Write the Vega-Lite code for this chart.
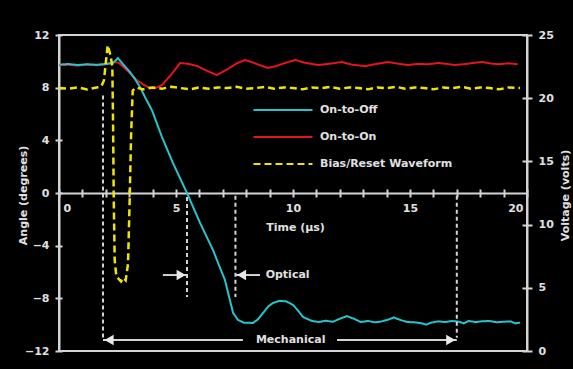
{
  "$schema": "https://vega.github.io/schema/vega-lite/v6.json",
  "width": 468,
  "height": 316,
  "autosize": "none",
  "padding": {"left": 59, "top": 35, "right": 46, "bottom": 18},
  "background": "#000000",
  "config": {
    "view": {"stroke": "#d4d4d4", "strokeWidth": 2},
    "axis": {
      "grid": false,
      "domainColor": "#d4d4d4", "domainWidth": 2,
      "tickColor": "#d4d4d4", "tickWidth": 2,
      "labelColor": "#e0e0e0", "labelFont": "DejaVu Sans", "labelFontWeight": "bold", "labelFontSize": 11,
      "titleColor": "#e0e0e0", "titleFont": "DejaVu Sans", "titleFontWeight": "bold", "titleFontSize": 11
    },
    "legend": {"labelColor": "#e0e0e0", "labelFont": "DejaVu Sans", "labelFontWeight": "bold", "labelFontSize": 11}
  },
  "datasets": {
    "series": [
      {"s":"On-to-On","t":0,"v":9.7},{"s":"On-to-On","t":0.4,"v":9.74},{"s":"On-to-On","t":0.8,"v":9.68},{"s":"On-to-On","t":1.2,"v":9.75},{"s":"On-to-On","t":1.6,"v":9.7},{"s":"On-to-On","t":2.0,"v":9.78},{"s":"On-to-On","t":2.3,"v":9.95},{"s":"On-to-On","t":2.55,"v":9.9},{"s":"On-to-On","t":2.8,"v":9.5},{"s":"On-to-On","t":3.03,"v":9.1},{"s":"On-to-On","t":3.3,"v":8.6},{"s":"On-to-On","t":3.55,"v":8.3},{"s":"On-to-On","t":3.8,"v":8.05},{"s":"On-to-On","t":4.1,"v":7.95},{"s":"On-to-On","t":4.4,"v":8.2},{"s":"On-to-On","t":4.8,"v":9.0},{"s":"On-to-On","t":5.17,"v":9.87},{"s":"On-to-On","t":5.5,"v":9.82},{"s":"On-to-On","t":5.9,"v":9.65},{"s":"On-to-On","t":6.3,"v":9.3},{"s":"On-to-On","t":6.75,"v":8.96},{"s":"On-to-On","t":7.2,"v":9.4},{"s":"On-to-On","t":7.6,"v":9.85},{"s":"On-to-On","t":7.95,"v":10.1},{"s":"On-to-On","t":8.3,"v":9.9},{"s":"On-to-On","t":8.6,"v":9.7},{"s":"On-to-On","t":8.93,"v":9.5},{"s":"On-to-On","t":9.3,"v":9.65},{"s":"On-to-On","t":9.7,"v":9.9},{"s":"On-to-On","t":10.1,"v":10.1},{"s":"On-to-On","t":10.5,"v":9.9},{"s":"On-to-On","t":11.07,"v":9.72},{"s":"On-to-On","t":11.5,"v":9.8},{"s":"On-to-On","t":12.1,"v":9.95},{"s":"On-to-On","t":12.5,"v":9.75},{"s":"On-to-On","t":13.1,"v":9.64},{"s":"On-to-On","t":13.5,"v":9.78},{"s":"On-to-On","t":14.06,"v":9.95},{"s":"On-to-On","t":14.5,"v":9.82},{"s":"On-to-On","t":14.9,"v":9.72},{"s":"On-to-On","t":15.3,"v":9.8},{"s":"On-to-On","t":15.8,"v":9.78},{"s":"On-to-On","t":16.2,"v":9.87},{"s":"On-to-On","t":16.6,"v":9.8},{"s":"On-to-On","t":16.9,"v":9.72},{"s":"On-to-On","t":17.4,"v":9.8},{"s":"On-to-On","t":17.8,"v":9.9},{"s":"On-to-On","t":18.1,"v":9.95},{"s":"On-to-On","t":18.5,"v":9.82},{"s":"On-to-On","t":18.8,"v":9.78},{"s":"On-to-On","t":19.2,"v":9.85},{"s":"On-to-On","t":19.6,"v":9.78},
      {"s":"On-to-Off","t":0,"v":9.75},{"s":"On-to-Off","t":0.4,"v":9.8},{"s":"On-to-Off","t":0.8,"v":9.72},{"s":"On-to-Off","t":1.2,"v":9.78},{"s":"On-to-Off","t":1.6,"v":9.74},{"s":"On-to-Off","t":2.0,"v":9.8},{"s":"On-to-Off","t":2.3,"v":9.85},{"s":"On-to-Off","t":2.52,"v":10.25},{"s":"On-to-Off","t":2.75,"v":9.75},{"s":"On-to-Off","t":3.03,"v":9.19},{"s":"On-to-Off","t":3.25,"v":8.65},{"s":"On-to-Off","t":3.46,"v":8.05},{"s":"On-to-Off","t":3.7,"v":7.2},{"s":"On-to-Off","t":3.97,"v":6.3},{"s":"On-to-Off","t":4.4,"v":4.25},{"s":"On-to-Off","t":4.87,"v":2.28},{"s":"On-to-Off","t":5.47,"v":0},{"s":"On-to-Off","t":6.03,"v":-2.28},{"s":"On-to-Off","t":6.58,"v":-4.33},{"s":"On-to-Off","t":7.09,"v":-6.6},{"s":"On-to-Off","t":7.44,"v":-9.11},{"s":"On-to-Off","t":7.65,"v":-9.64},{"s":"On-to-Off","t":7.9,"v":-9.85},{"s":"On-to-Off","t":8.29,"v":-9.87},{"s":"On-to-Off","t":8.5,"v":-9.6},{"s":"On-to-Off","t":8.72,"v":-9.11},{"s":"On-to-Off","t":8.95,"v":-8.6},{"s":"On-to-Off","t":9.15,"v":-8.35},{"s":"On-to-Off","t":9.4,"v":-8.2},{"s":"On-to-Off","t":9.7,"v":-8.22},{"s":"On-to-Off","t":10.0,"v":-8.5},{"s":"On-to-Off","t":10.2,"v":-8.9},{"s":"On-to-Off","t":10.43,"v":-9.42},{"s":"On-to-Off","t":10.81,"v":-9.72},{"s":"On-to-Off","t":11.1,"v":-9.8},{"s":"On-to-Off","t":11.4,"v":-9.7},{"s":"On-to-Off","t":11.7,"v":-9.78},{"s":"On-to-Off","t":12.0,"v":-9.55},{"s":"On-to-Off","t":12.3,"v":-9.35},{"s":"On-to-Off","t":12.6,"v":-9.55},{"s":"On-to-Off","t":12.9,"v":-9.8},{"s":"On-to-Off","t":13.2,"v":-9.72},{"s":"On-to-Off","t":13.5,"v":-9.82},{"s":"On-to-Off","t":13.8,"v":-9.75},{"s":"On-to-Off","t":14.1,"v":-9.6},{"s":"On-to-Off","t":14.3,"v":-9.45},{"s":"On-to-Off","t":14.6,"v":-9.65},{"s":"On-to-Off","t":14.9,"v":-9.8},{"s":"On-to-Off","t":15.2,"v":-9.82},{"s":"On-to-Off","t":15.5,"v":-9.9},{"s":"On-to-Off","t":15.7,"v":-10.0},{"s":"On-to-Off","t":15.9,"v":-9.85},{"s":"On-to-Off","t":16.2,"v":-9.75},{"s":"On-to-Off","t":16.5,"v":-9.8},{"s":"On-to-Off","t":16.8,"v":-9.72},{"s":"On-to-Off","t":17.1,"v":-9.78},{"s":"On-to-Off","t":17.3,"v":-9.9},{"s":"On-to-Off","t":17.5,"v":-9.72},{"s":"On-to-Off","t":17.8,"v":-9.8},{"s":"On-to-Off","t":18.1,"v":-9.74},{"s":"On-to-Off","t":18.4,"v":-9.72},{"s":"On-to-Off","t":18.7,"v":-9.82},{"s":"On-to-Off","t":19.0,"v":-9.78},{"s":"On-to-Off","t":19.3,"v":-9.75},{"s":"On-to-Off","t":19.5,"v":-9.9},{"s":"On-to-Off","t":19.7,"v":-9.85},
      {"s":"Bias/Reset Waveform","t":0,"v":20.8},{"s":"Bias/Reset Waveform","t":0.4,"v":20.75},{"s":"Bias/Reset Waveform","t":0.8,"v":20.85},{"s":"Bias/Reset Waveform","t":1.2,"v":20.7},{"s":"Bias/Reset Waveform","t":1.6,"v":20.85},{"s":"Bias/Reset Waveform","t":1.8,"v":20.9},{"s":"Bias/Reset Waveform","t":1.92,"v":21.4},{"s":"Bias/Reset Waveform","t":2.08,"v":24.2},{"s":"Bias/Reset Waveform","t":2.2,"v":23.4},{"s":"Bias/Reset Waveform","t":2.28,"v":22.5},{"s":"Bias/Reset Waveform","t":2.31,"v":18},{"s":"Bias/Reset Waveform","t":2.34,"v":12},{"s":"Bias/Reset Waveform","t":2.38,"v":7.2},{"s":"Bias/Reset Waveform","t":2.45,"v":5.9},{"s":"Bias/Reset Waveform","t":2.55,"v":5.7},{"s":"Bias/Reset Waveform","t":2.65,"v":5.5},{"s":"Bias/Reset Waveform","t":2.75,"v":5.8},{"s":"Bias/Reset Waveform","t":2.85,"v":5.6},{"s":"Bias/Reset Waveform","t":2.95,"v":6.9},{"s":"Bias/Reset Waveform","t":3.02,"v":12},{"s":"Bias/Reset Waveform","t":3.08,"v":17},{"s":"Bias/Reset Waveform","t":3.15,"v":20.6},{"s":"Bias/Reset Waveform","t":3.3,"v":20.85},{"s":"Bias/Reset Waveform","t":3.6,"v":20.7},{"s":"Bias/Reset Waveform","t":4.0,"v":20.85},{"s":"Bias/Reset Waveform","t":4.4,"v":20.75},{"s":"Bias/Reset Waveform","t":4.8,"v":20.9},{"s":"Bias/Reset Waveform","t":5.2,"v":20.8},{"s":"Bias/Reset Waveform","t":5.6,"v":20.7},{"s":"Bias/Reset Waveform","t":6.0,"v":20.85},{"s":"Bias/Reset Waveform","t":6.4,"v":20.75},{"s":"Bias/Reset Waveform","t":6.8,"v":20.85},{"s":"Bias/Reset Waveform","t":7.2,"v":20.8},{"s":"Bias/Reset Waveform","t":7.6,"v":20.9},{"s":"Bias/Reset Waveform","t":8.0,"v":20.75},{"s":"Bias/Reset Waveform","t":8.4,"v":20.8},{"s":"Bias/Reset Waveform","t":8.8,"v":20.9},{"s":"Bias/Reset Waveform","t":9.2,"v":20.75},{"s":"Bias/Reset Waveform","t":9.6,"v":20.85},{"s":"Bias/Reset Waveform","t":10.0,"v":20.8},{"s":"Bias/Reset Waveform","t":10.4,"v":20.7},{"s":"Bias/Reset Waveform","t":10.8,"v":20.85},{"s":"Bias/Reset Waveform","t":11.2,"v":20.8},{"s":"Bias/Reset Waveform","t":11.6,"v":20.9},{"s":"Bias/Reset Waveform","t":12.0,"v":20.75},{"s":"Bias/Reset Waveform","t":12.4,"v":20.85},{"s":"Bias/Reset Waveform","t":12.8,"v":20.8},{"s":"Bias/Reset Waveform","t":13.2,"v":20.7},{"s":"Bias/Reset Waveform","t":13.6,"v":20.85},{"s":"Bias/Reset Waveform","t":14.0,"v":20.8},{"s":"Bias/Reset Waveform","t":14.4,"v":20.9},{"s":"Bias/Reset Waveform","t":14.8,"v":20.75},{"s":"Bias/Reset Waveform","t":15.2,"v":20.85},{"s":"Bias/Reset Waveform","t":15.6,"v":20.8},{"s":"Bias/Reset Waveform","t":16.0,"v":20.7},{"s":"Bias/Reset Waveform","t":16.4,"v":20.85},{"s":"Bias/Reset Waveform","t":16.8,"v":20.8},{"s":"Bias/Reset Waveform","t":17.2,"v":20.9},{"s":"Bias/Reset Waveform","t":17.6,"v":20.75},{"s":"Bias/Reset Waveform","t":18.0,"v":20.85},{"s":"Bias/Reset Waveform","t":18.4,"v":20.8},{"s":"Bias/Reset Waveform","t":18.8,"v":20.7},{"s":"Bias/Reset Waveform","t":19.2,"v":20.85},{"s":"Bias/Reset Waveform","t":19.7,"v":20.8}
    ],
    "vrules": [
      {"t": 1.88, "a1": 7.4, "a2": -11.1},
      {"t": 5.47, "a1": -0.3, "a2": -7.9},
      {"t": 7.54, "a1": -0.2, "a2": -7.9},
      {"t": 17.0, "a1": -0.2, "a2": -11.0}
    ],
    "hrules": [
      {"t1": 4.44, "t2": 5.47, "a": -6.23},
      {"t1": 7.54, "t2": 8.59, "a": -6.23},
      {"t1": 1.88, "t2": 7.86, "a": -11.16},
      {"t1": 11.88, "t2": 17.0, "a": -11.16}
    ],
    "heads": [
      {"t": 5.22, "a": -6.23, "dir": "right"},
      {"t": 7.8, "a": -6.23, "dir": "left"},
      {"t": 2.14, "a": -11.16, "dir": "left"},
      {"t": 16.74, "a": -11.16, "dir": "right"}
    ],
    "notes": [
      {"t": 9.77, "a": -6.23, "label": "Optical"},
      {"t": 9.9, "a": -11.16, "label": "Mechanical"}
    ]
  },
  "resolve": {"scale": {"y": "independent"}, "axis": {"x": "independent", "y": "independent"}},
  "layer": [
    {
      "data": {"name": "series"},
      "transform": [{"filter": "datum.s !== 'Bias/Reset Waveform'"}],
      "mark": {"type": "line", "strokeWidth": 2},
      "encoding": {
        "x": {"field": "t", "type": "quantitative", "scale": {"domain": [0, 20], "nice": false},
          "axis": {"orient": "bottom", "offset": -158, "values": [0,1,2,3,4,5,6,7,8,9,10,11,12,13,14,15,16,17,18,19,20],
            "labelExpr": "datum.value % 5 === 0 ? datum.label : ''", "labelOverlap": false,
            "tickSize": 4, "labelPadding": 5, "labelFlush": true, "labelFlushOffset": -4,
            "title": "Time (µs)", "titleX": 236, "titleY": 34, "titleBaseline": "middle", "titleAlign": "center"}},
        "y": {"field": "v", "type": "quantitative", "scale": {"domain": [-12, 12], "nice": false, "zero": false},
          "axis": {"orient": "left", "values": [-12,-8,-4,0,4,8,12], "tickSize": 4, "labelPadding": 6, "labelFlush": false,
            "title": "Angle (degrees)", "titleX": -36, "titleY": 160, "titleAngle": -90, "titleBaseline": "middle", "titleAlign": "center"}},
        "color": {"field": "s", "type": "nominal",
          "scale": {"domain": ["On-to-Off", "On-to-On", "Bias/Reset Waveform"], "range": ["#22c6cf", "#e8141c", "#f0e400"]},
          "legend": {"orient": "none", "legendX": 218, "legendY": 69, "title": null, "padding": 0, "symbolType": "M-5.9,0H5.9", "symbolSize": 100, "symbolStrokeWidth": 2, "labelOffset": 31, "rowPadding": 16}},
        "strokeDash": {"field": "s", "type": "nominal",
          "scale": {"domain": ["On-to-Off", "On-to-On", "Bias/Reset Waveform"], "range": [[1,0],[1,0],[7,4]]},
          "legend": {"orient": "none", "legendX": 218, "legendY": 69, "title": null, "padding": 0, "symbolType": "M-5.9,0H5.9", "symbolSize": 100, "symbolStrokeWidth": 2, "labelOffset": 31, "rowPadding": 16}},
        "order": {"field": "t", "type": "quantitative"}
      }
    },
    {
      "data": {"name": "series"},
      "transform": [{"filter": "datum.s === 'Bias/Reset Waveform'"}],
      "mark": {"type": "line", "strokeWidth": 2.5},
      "encoding": {
        "x": {"field": "t", "type": "quantitative", "axis": null},
        "y": {"field": "v", "type": "quantitative", "scale": {"domain": [0, 25], "nice": false, "zero": false},
          "axis": {"orient": "right", "values": [0,5,10,15,20,25], "tickSize": 5, "labelPadding": 6, "labelFlush": false,
            "title": "Voltage (volts)", "titleX": 38, "titleY": 160, "titleAngle": -90, "titleBaseline": "middle", "titleAlign": "center"}},
        "color": {"field": "s", "type": "nominal",
          "scale": {"domain": ["On-to-Off", "On-to-On", "Bias/Reset Waveform"], "range": ["#22c6cf", "#e8141c", "#f0e400"]},
          "legend": {"orient": "none", "legendX": 218, "legendY": 69, "title": null, "padding": 0, "symbolType": "M-5.9,0H5.9", "symbolSize": 100, "symbolStrokeWidth": 2, "labelOffset": 31, "rowPadding": 16}},
        "strokeDash": {"field": "s", "type": "nominal",
          "scale": {"domain": ["On-to-Off", "On-to-On", "Bias/Reset Waveform"], "range": [[1,0],[1,0],[7,4]]},
          "legend": {"orient": "none", "legendX": 218, "legendY": 69, "title": null, "padding": 0, "symbolType": "M-5.9,0H5.9", "symbolSize": 100, "symbolStrokeWidth": 2, "labelOffset": 31, "rowPadding": 16}},
        "order": {"field": "t", "type": "quantitative"}
      }
    },
    {
      "data": {"name": "vrules"},
      "mark": {"type": "rule", "color": "#d4d4d4", "strokeWidth": 2, "strokeDash": [4, 3]},
      "encoding": {
        "x": {"field": "t", "type": "quantitative",
          "axis": {"orient": "top", "offset": -158, "values": [0,1,2,3,4,5,6,7,8,9,10,11,12,13,14,15,16,17,18,19,20], "tickSize": 4, "labels": false, "domain": false, "title": null}},
        "y": {"field": "a1", "type": "quantitative", "scale": {"domain": [-12, 12], "nice": false, "zero": false},
          "axis": {"orient": "right", "offset": -468, "values": [-12,-8,-4,0,4,8,12], "tickSize": 3, "labels": false, "domain": false, "title": null}},
        "y2": {"field": "a2"}
      }
    },
    {
      "data": {"name": "hrules"},
      "mark": {"type": "rule", "color": "#d4d4d4", "strokeWidth": 2},
      "encoding": {
        "x": {"field": "t1", "type": "quantitative", "axis": null},
        "x2": {"field": "t2"},
        "y": {"field": "a", "type": "quantitative", "scale": {"domain": [-12, 12], "nice": false, "zero": false},
          "axis": {"orient": "left", "offset": -468, "values": [-12,-7.2,-2.4,2.4,7.2,12], "tickSize": 5, "labels": false, "domain": false, "title": null}}
      }
    },
    {
      "data": {"name": "heads"},
      "mark": {"type": "point", "filled": true, "color": "#e8e8e8", "size": 110, "opacity": 1},
      "encoding": {
        "x": {"field": "t", "type": "quantitative", "axis": null},
        "y": {"field": "a", "type": "quantitative", "scale": {"domain": [-12, 12], "nice": false, "zero": false}, "axis": null},
        "shape": {"field": "dir", "type": "nominal", "scale": {"domain": ["left", "right"], "range": ["triangle-left", "triangle-right"]}, "legend": null}
      }
    },
    {
      "data": {"name": "notes"},
      "mark": {"type": "text", "color": "#e0e0e0", "font": "DejaVu Sans", "fontWeight": "bold", "fontSize": 11, "align": "center", "baseline": "middle"},
      "encoding": {
        "x": {"field": "t", "type": "quantitative", "axis": null},
        "y": {"field": "a", "type": "quantitative", "scale": {"domain": [-12, 12], "nice": false, "zero": false}, "axis": null},
        "text": {"field": "label"}
      }
    }
  ]
}
